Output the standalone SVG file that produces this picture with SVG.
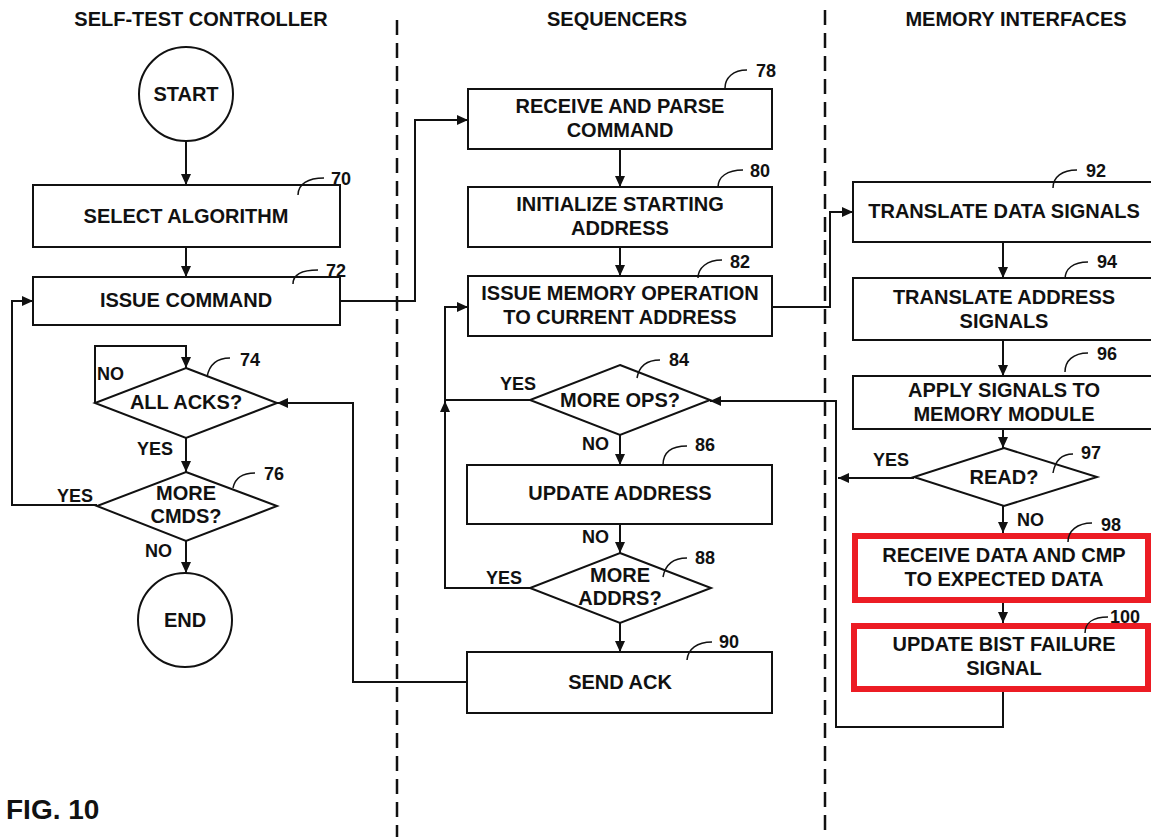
<svg xmlns="http://www.w3.org/2000/svg" width="1151" height="837" viewBox="0 0 1151 837">
  <style>
    text { font-family: "Liberation Sans", Arial, sans-serif; font-weight: bold; fill: #111; }
    .t { font-size: 20px; text-anchor: middle; }
    .h { font-size: 20px; text-anchor: middle; }
    .n { font-size: 18px; }
    .lbl { font-size: 18px; }
    .box { fill: #fff; stroke: #111; stroke-width: 2; }
    .hl { fill: #fff; stroke: #ec1c24; stroke-width: 6; }
    .lead { fill: none; stroke: #111; stroke-width: 1.5; }
    .div { stroke: #111; stroke-width: 2.5; stroke-dasharray: 15 8; }
    .conn path { fill: none; stroke: #111; stroke-width: 2; }
  </style>
  <defs>
    <marker id="arrow" markerUnits="userSpaceOnUse" markerWidth="12" markerHeight="10" refX="11" refY="5" orient="auto">
      <path d="M0,0 L11,5 L0,10 z" fill="#111"/>
    </marker>
  </defs>

  <rect width="1151" height="837" fill="#fff"/>

  <!-- lane dividers -->
  <line class="div" x1="397" y1="20" x2="397" y2="837"/>
  <line class="div" x1="825" y1="10" x2="825" y2="837"/>

  <!-- lane titles -->
  <text class="h" x="201" y="26">SELF-TEST CONTROLLER</text>
  <text class="h" x="617" y="26">SEQUENCERS</text>
  <text class="h" x="1016" y="26">MEMORY INTERFACES</text>

  <!-- connectors -->
  <g id="connectors" class="conn">
    <path d="M186,141 V185" marker-end="url(#arrow)"/>
    <path d="M186,247 V277" marker-end="url(#arrow)"/>
    <path d="M97,505 H12 V301 H33" marker-end="url(#arrow)"/>
    <path d="M340,301 H415 V120 H468" marker-end="url(#arrow)"/>
    <path d="M95,403 V346 H186 V368" marker-end="url(#arrow)"/>
    <path d="M186,438 V472" marker-end="url(#arrow)"/>
    <path d="M186,541 V573" marker-end="url(#arrow)"/>
    <path d="M467,682 H353 V403 H277" marker-end="url(#arrow)"/>
    <path d="M620,149 V187" marker-end="url(#arrow)"/>
    <path d="M620,247 V276" marker-end="url(#arrow)"/>
    <path d="M530,588 H445 V401" marker-end="url(#arrow)"/>
    <path d="M530,400 H445 V307 H468" marker-end="url(#arrow)"/>
    <path d="M620,435 V465" marker-end="url(#arrow)"/>
    <path d="M620,524 V553" marker-end="url(#arrow)"/>
    <path d="M620,623 V652" marker-end="url(#arrow)"/>
    <path d="M772,307 H830 V212 H853" marker-end="url(#arrow)"/>
    <path d="M1003,242 V278" marker-end="url(#arrow)"/>
    <path d="M1003,340 V376" marker-end="url(#arrow)"/>
    <path d="M1003,429 V448" marker-end="url(#arrow)"/>
    <path d="M914,478 H838" marker-end="url(#arrow)"/>
    <path d="M1003,506 V533" marker-end="url(#arrow)"/>
    <path d="M1003,603 V623" marker-end="url(#arrow)"/>
    <path d="M1003,692 V727 H836 V401 H710" marker-end="url(#arrow)"/>
  </g>

  <!-- branch labels -->
  <g id="branch-labels">
    <text class="lbl" x="97" y="380">NO</text>
    <text class="lbl" x="137" y="455">YES</text>
    <text class="lbl" x="57" y="502">YES</text>
    <text class="lbl" x="145" y="557">NO</text>
    <text class="lbl" x="500" y="390">YES</text>
    <text class="lbl" x="582" y="450">NO</text>
    <text class="lbl" x="582" y="543">NO</text>
    <text class="lbl" x="486" y="584">YES</text>
    <text class="lbl" x="873" y="466">YES</text>
    <text class="lbl" x="1017" y="526">NO</text>
  </g>

  <!-- self-test controller -->
  <g id="start">
    <circle cx="186" cy="94" r="47" fill="#fff" stroke="#111" stroke-width="2"/>
    <text class="t" x="186" y="101">START</text>
  </g>
  <g id="n70">
    <rect class="box" x="33" y="185" width="307" height="62"/>
    <text class="t" x="186" y="223">SELECT ALGORITHM</text>
    <path class="lead" d="M298,195 C298,184 308,178 324,178"/>
    <text class="n" x="331" y="185">70</text>
  </g>
  <g id="n72">
    <rect class="box" x="33" y="277" width="307" height="48"/>
    <text class="t" x="186" y="307">ISSUE COMMAND</text>
    <path class="lead" d="M293,284 C293,274 302,270 318,270"/>
    <text class="n" x="326" y="277">72</text>
  </g>
  <g id="n74">
    <polygon class="box" points="186,368 277,403 186,438 95,403"/>
    <text class="t" x="186" y="409">ALL ACKS?</text>
    <path class="lead" d="M207,377 C209,366 216,358 230,358"/>
    <text class="n" x="240" y="366">74</text>
  </g>
  <g id="n76">
    <polygon class="box" points="186,472 277,506 186,541 97,506"/>
    <text class="t" x="186" y="500">MORE</text>
    <text class="t" x="186" y="523">CMDS?</text>
    <path class="lead" d="M233,488 C235,478 242,473 255,473"/>
    <text class="n" x="264" y="480">76</text>
  </g>
  <g id="end">
    <circle cx="185" cy="620" r="47" fill="#fff" stroke="#111" stroke-width="2"/>
    <text class="t" x="185" y="627">END</text>
  </g>

  <!-- sequencers -->
  <g id="n78">
    <rect class="box" x="468" y="89" width="304" height="60"/>
    <text class="t" x="620" y="113">RECEIVE AND PARSE</text>
    <text class="t" x="620" y="137">COMMAND</text>
    <path class="lead" d="M725,88 C725,78 733,70 747,70"/>
    <text class="n" x="756" y="77">78</text>
  </g>
  <g id="n80">
    <rect class="box" x="468" y="187" width="304" height="60"/>
    <text class="t" x="620" y="211">INITIALIZE STARTING</text>
    <text class="t" x="620" y="235">ADDRESS</text>
    <path class="lead" d="M718,187 C718,177 727,170 743,170"/>
    <text class="n" x="750" y="177">80</text>
  </g>
  <g id="n82">
    <rect class="box" x="468" y="276" width="304" height="60"/>
    <text class="t" x="620" y="300">ISSUE MEMORY OPERATION</text>
    <text class="t" x="620" y="324">TO CURRENT ADDRESS</text>
    <path class="lead" d="M698,278 C698,268 707,260 722,260"/>
    <text class="n" x="730" y="268">82</text>
  </g>
  <g id="n84">
    <polygon class="box" points="620,365 710,400 620,435 530,400"/>
    <text class="t" x="620" y="407">MORE OPS?</text>
    <path class="lead" d="M637,378 C639,367 646,360 660,360"/>
    <text class="n" x="669" y="366">84</text>
  </g>
  <g id="n86">
    <rect class="box" x="467" y="465" width="305" height="59"/>
    <text class="t" x="620" y="500">UPDATE ADDRESS</text>
    <path class="lead" d="M663,465 C663,453 671,446 687,446"/>
    <text class="n" x="695" y="451">86</text>
  </g>
  <g id="n88">
    <polygon class="box" points="620,553 711,588 620,623 530,588"/>
    <text class="t" x="620" y="582">MORE</text>
    <text class="t" x="620" y="605">ADDRS?</text>
    <path class="lead" d="M663,577 C665,566 672,558 687,558"/>
    <text class="n" x="695" y="564">88</text>
  </g>
  <g id="n90">
    <rect class="box" x="467" y="652" width="305" height="61"/>
    <text class="t" x="620" y="689">SEND ACK</text>
    <path class="lead" d="M687,660 C688,649 697,642 712,642"/>
    <text class="n" x="719" y="648">90</text>
  </g>

  <!-- memory interfaces -->
  <g id="n92">
    <rect class="box" x="853" y="182" width="302" height="60"/>
    <text class="t" x="1004" y="218">TRANSLATE DATA SIGNALS</text>
    <path class="lead" d="M1053,188 C1053,177 1062,170 1077,170"/>
    <text class="n" x="1086" y="177">92</text>
  </g>
  <g id="n94">
    <rect class="box" x="853" y="278" width="302" height="62"/>
    <text class="t" x="1004" y="304">TRANSLATE ADDRESS</text>
    <text class="t" x="1004" y="328">SIGNALS</text>
    <path class="lead" d="M1065,279 C1065,269 1073,262 1088,262"/>
    <text class="n" x="1097" y="268">94</text>
  </g>
  <g id="n96">
    <rect class="box" x="853" y="376" width="302" height="53"/>
    <text class="t" x="1004" y="397">APPLY SIGNALS TO</text>
    <text class="t" x="1004" y="421">MEMORY MODULE</text>
    <path class="lead" d="M1065,372 C1065,361 1073,353 1088,353"/>
    <text class="n" x="1097" y="360">96</text>
  </g>
  <g id="n97">
    <polygon class="box" points="1004,448 1097,477 1004,506 914,477"/>
    <text class="t" x="1004" y="484">READ?</text>
    <path class="lead" d="M1053,473 C1055,461 1061,454 1073,454"/>
    <text class="n" x="1081" y="459">97</text>
  </g>
  <g id="n98">
    <rect class="hl" x="855" y="536" width="293" height="64"/>
    <text class="t" x="1004" y="562">RECEIVE DATA AND CMP</text>
    <text class="t" x="1004" y="586">TO EXPECTED DATA</text>
    <path class="lead" d="M1068,542 C1068,531 1077,523 1092,523"/>
    <text class="n" x="1101" y="531">98</text>
  </g>
  <g id="n100">
    <rect class="hl" x="854" y="626" width="294" height="63"/>
    <text class="t" x="1004" y="651">UPDATE BIST FAILURE</text>
    <text class="t" x="1004" y="675">SIGNAL</text>
    <path class="lead" d="M1085,633 C1085,623 1093,617 1108,617"/>
    <text class="n" x="1110" y="623">100</text>
  </g>

  <text x="6" y="819" style="font-size:28px">FIG. 10</text>
</svg>
